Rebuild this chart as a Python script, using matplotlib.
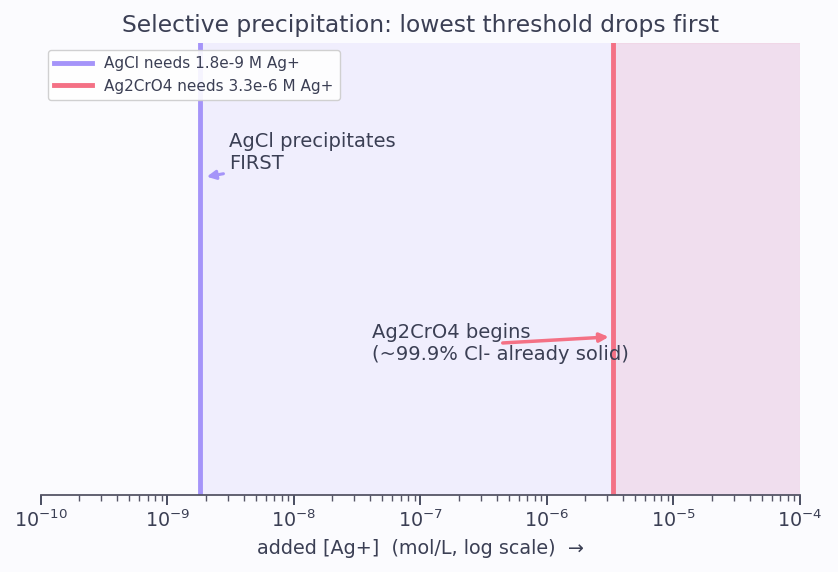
import matplotlib
matplotlib.use("Agg")
import matplotlib.pyplot as plt

# threshold [Ag+] needed to start precipitation (mol/L)
salts = ["AgCl", "Ag2CrO4"]
thresholds = [1.8e-9, 3.3e-6]
labels = ["AgCl needs 1.8e-9 M Ag+", "Ag2CrO4 needs 3.3e-6 M Ag+"]
colors = ["#a594f9", "#f47185"]
x_range = [1e-10, 1e-4]

ink = "#3b3f54"
bg = "#fbfbfe"

fig = plt.figure(figsize=(8.38, 5.72), dpi=100, facecolor=bg)
ax = fig.add_axes([41 / 838, 77 / 572, 759 / 838, 452 / 572])
ax.set_facecolor(bg)
ax.set_xscale("log")
ax.set_xlim(x_range)
ax.set_ylim(0, 1)

# shaded regions (second overlays the first)
ax.axvspan(thresholds[0], x_range[1], color=colors[0], alpha=0.12, lw=0)
ax.axvspan(thresholds[1], x_range[1], facecolor=colors[1], alpha=0.12,
           edgecolor=colors[1], lw=0.8)

for t, lab, c in zip(thresholds, labels, colors):
    ax.axvline(t, color=c, lw=3.5, label=lab)

ax.annotate("AgCl precipitates\nFIRST", xy=(thresholds[0] * 1.08, 0.703),
            xytext=(thresholds[0] * 1.7, 0.713), ha="left", va="bottom",
            fontsize=14, color=ink,
            arrowprops=dict(arrowstyle="-|>", color=colors[0], lw=2.2,
                            relpos=(0, 0), mutation_scale=13))
ax.annotate("Ag2CrO4 begins\n(~99.9% Cl- already solid)",
            xy=(thresholds[1] * 0.98, 0.35), xytext=(4.1e-8, 0.336),
            ha="left", va="center", fontsize=14, color=ink,
            arrowprops=dict(arrowstyle="-|>", color=colors[1], lw=2.5,
                            mutation_scale=13))

ax.set_title("Selective precipitation: lowest threshold drops first",
             fontsize=16.8, color=ink, pad=8)
ax.set_xlabel("added [Ag+]  (mol/L, log scale)  \u2192", fontsize=13.8,
              color=ink, labelpad=6)
ax.set_yticks([])
for s in ["left", "right", "top"]:
    ax.spines[s].set_visible(False)
ax.spines["bottom"].set_color("#555566")
ax.spines["bottom"].set_linewidth(1.3)
ax.tick_params(axis="x", which="major", labelsize=13.8, colors=ink, length=7,
               width=1.3)
ax.tick_params(axis="x", which="minor", length=4, width=1, colors="#555566")

leg = ax.legend(loc="upper left", fontsize=11, frameon=True, framealpha=0.9,
                borderaxespad=0.45, handlelength=2.5)
leg.get_frame().set_edgecolor("#cccccc")
for txt in leg.get_texts():
    txt.set_color(ink)

fig.savefig("out.png", dpi=100, facecolor=bg)
